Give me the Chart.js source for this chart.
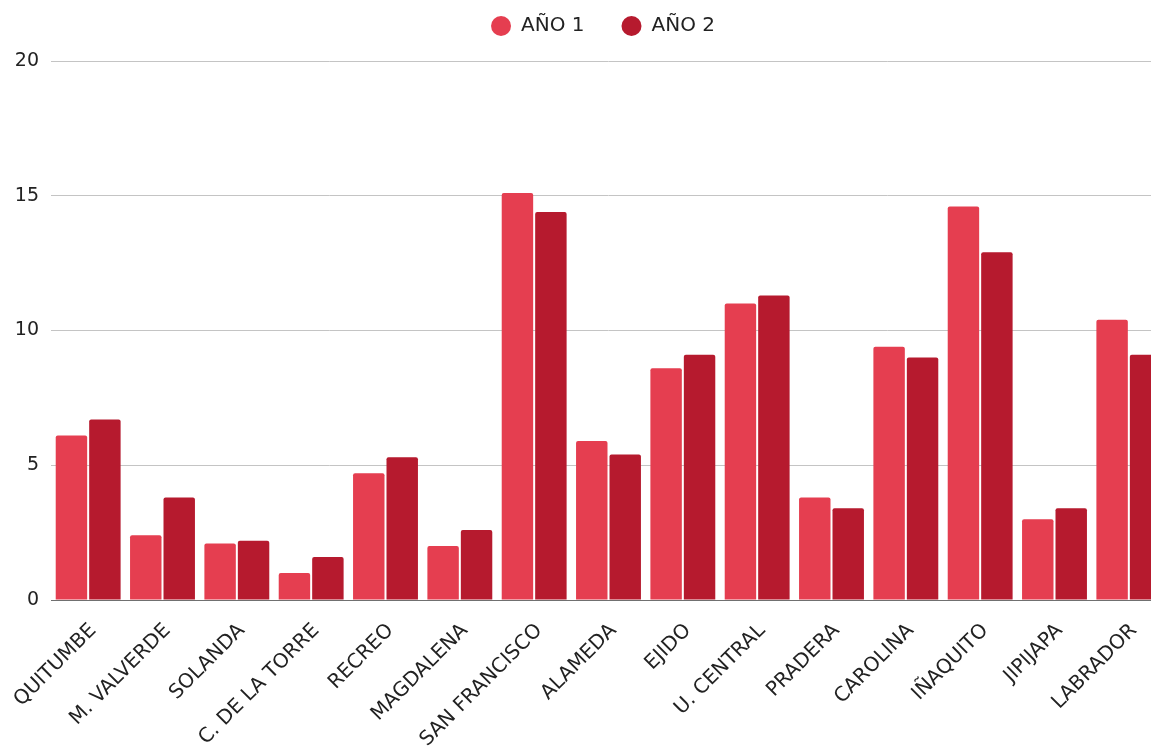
<!DOCTYPE html>
<html>
<head>
<meta charset="utf-8">
<script src="https://cdn.jsdelivr.net/npm/chart.js@4"></script>
<style>
  html, body { margin: 0; padding: 0; background: #fff; overflow: hidden; }
  #wrap { width: 1206px; height: 751px; }
</style>
</head>
<body>
<div id="wrap"><canvas id="chart" width="1206" height="751"></canvas></div>
<script>
// data
const categories = ['QUITUMBE', 'M. VALVERDE', 'SOLANDA', 'C. DE LA TORRE', 'RECREO', 'MAGDALENA',
    'SAN FRANCISCO', 'ALAMEDA', 'EJIDO', 'U. CENTRAL', 'PRADERA', 'CAROLINA', 'IÑAQUITO', 'JIPIJAPA', 'LABRADOR'];
const year1 = [6.1, 2.4, 2.1, 1.0, 4.7, 2.0, 15.1, 5.9, 8.6, 11.0, 3.8, 9.4, 14.6, 3.0, 10.4];
const year2 = [6.7, 3.8, 2.2, 1.6, 5.3, 2.6, 14.4, 5.4, 9.1, 11.3, 3.4, 9.0, 12.9, 3.4, 9.1];
const seriesNames = ['AÑO 1', 'AÑO 2'];
const yTicks = [0, 5, 10, 15, 20];

const font = 'DejaVu Sans';
const textColor = '#222222';

// extra room under the legend so the plot starts lower without moving the legend itself
const legendSpacer = {
    id: 'legendSpacer',
    beforeLayout(chart) {
        const legend = chart.legend;
        if (legend && !legend._spaced) {
            const fit = legend.fit;
            legend.fit = function () {
                fit.call(this);
                this.height += 15;
            };
            legend._spaced = true;
        }
    }
};

const ctx = document.getElementById('chart').getContext('2d');
const chart = new Chart(ctx, {
    type: 'bar',
    data: {
        labels: categories,
        datasets: [{
            label: seriesNames[0],
            data: year1,
            backgroundColor: '#e53e50',
            borderRadius: 2,
            categoryPercentage: 0.9,
            barPercentage: 0.94
        }, {
            label: seriesNames[1],
            data: year2,
            backgroundColor: '#b61a2e',
            borderRadius: 2,
            categoryPercentage: 0.9,
            barPercentage: 0.94
        }]
    },
    plugins: [legendSpacer],
    options: {
        responsive: false,
        animation: false,
        devicePixelRatio: 1,
        layout: { padding: { top: -21, left: 0, right: 0, bottom: 0 } },
        plugins: {
            tooltip: { enabled: false },
            legend: {
                position: 'top',
                labels: {
                    usePointStyle: true,
                    pointStyle: 'circle',
                    pointStyleWidth: 20,
                    boxHeight: 14,
                    padding: 37,
                    color: textColor,
                    font: { family: font, size: 20 }
                }
            }
        },
        scales: {
            x: {
                grid: { display: false, drawTicks: false },
                border: { display: true, color: '#707070', width: 1 },
                ticks: {
                    autoSkip: false,
                    maxRotation: 45,
                    minRotation: 45,
                    padding: 19,
                    labelOffset: 5,
                    color: textColor,
                    font: { family: font, size: 20 }
                },
                afterFit: (axis) => {
                    axis.height = 151;
                    axis.paddingLeft = 0;
                    axis.paddingRight = 40;
                }
            },
            y: {
                min: yTicks[0],
                max: yTicks[yTicks.length - 1],
                grid: { color: '#c4c4c4', lineWidth: 1, drawTicks: false },
                border: { display: false },
                afterBuildTicks: (axis) => {
                    axis.ticks = yTicks.map(v => ({ value: v }));
                },
                ticks: {
                    padding: 12,
                    color: textColor,
                    font: { family: font, size: 19 }
                },
                afterFit: (axis) => {
                    axis.width = 51;
                }
            }
        }
    }
});
</script>
</body>
</html>
